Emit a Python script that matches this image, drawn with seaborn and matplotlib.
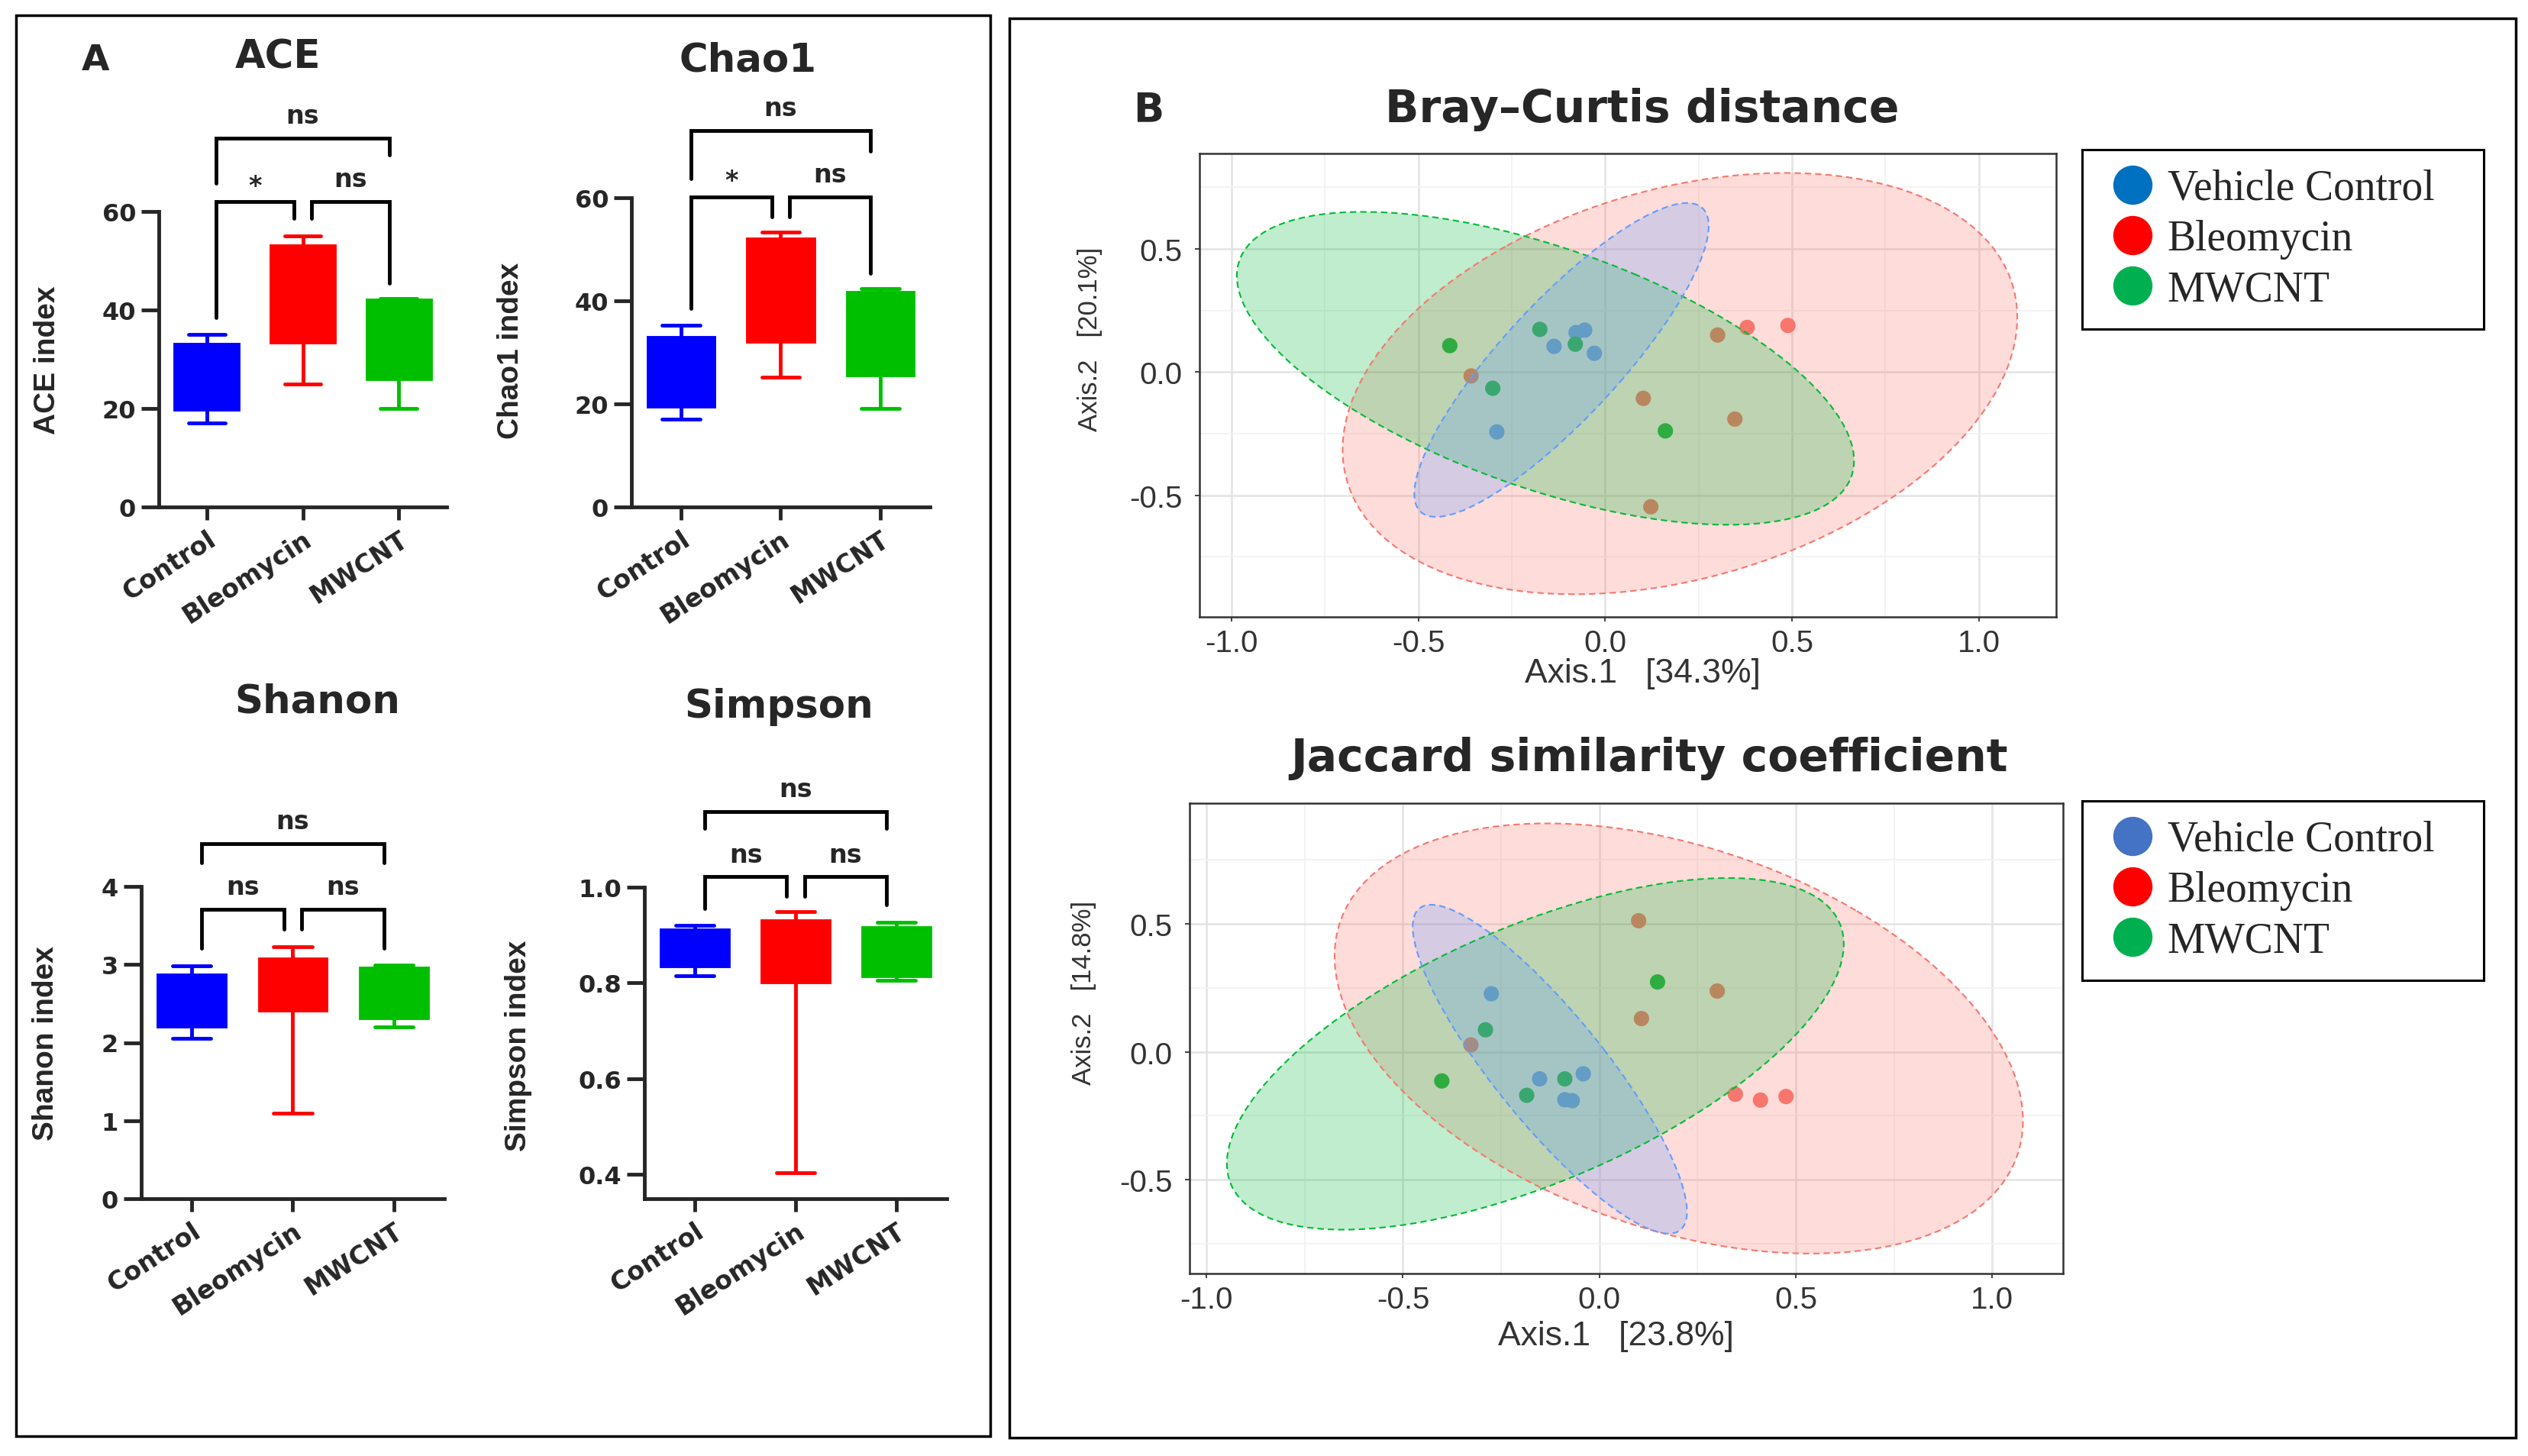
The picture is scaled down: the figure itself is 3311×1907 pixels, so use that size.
import matplotlib
matplotlib.use('Agg')
import matplotlib.pyplot as plt
from matplotlib.patches import Ellipse, Rectangle
from matplotlib.lines import Line2D
from matplotlib.ticker import FormatStrFormatter
import numpy as np
import pandas as pd
import seaborn as sns

# ---- panel A data: five-number summaries (min, q1, median, q3, max) ----
groups = ['Control', 'Bleomycin', 'MWCNT']
box_colors = ['#0000FF', '#FF0000', '#00BF00']

ace_control = [17.0, 19.9, 26.0, 33.0, 35.0]
ace_bleomycin = [25.0, 33.5, 45.0, 53.1, 55.0]
ace_mwcnt = [20.0, 26.1, 35.0, 42.0, 42.4]
chao1_control = [17.0, 19.6, 26.0, 32.9, 35.2]
chao1_bleomycin = [25.2, 32.1, 44.0, 52.0, 53.4]
chao1_mwcnt = [19.1, 25.6, 34.0, 41.6, 42.4]
shanon_control = [2.05, 2.21, 2.55, 2.87, 2.98]
shanon_bleomycin = [1.10, 2.42, 2.80, 3.07, 3.23]
shanon_mwcnt = [2.20, 2.32, 2.65, 2.95, 2.99]
simpson_control = [0.815, 0.835, 0.875, 0.911, 0.921]
simpson_bleomycin = [0.403, 0.802, 0.870, 0.930, 0.949]
simpson_mwcnt = [0.805, 0.815, 0.870, 0.915, 0.927]

# significance: ctrl-bleo, bleo-mwcnt, ctrl-mwcnt
ace_sig = ['*', 'ns', 'ns']
chao1_sig = ['*', 'ns', 'ns']
shanon_sig = ['ns', 'ns', 'ns']
simpson_sig = ['ns', 'ns', 'ns']
ace_bars = [62.0, 62.0, 74.9]
ace_legs = [(38.5, 58.6), (58.6, 45.4), (65.7, 71.4)]
chao1_bars = [60.2, 60.2, 73.1]
chao1_legs = [(38.5, 56.3), (56.3, 45.3), (63.7, 69.1)]
shanon_bars = [3.71, 3.71, 4.55]
shanon_legs = [(3.21, 3.45), (3.45, 3.21), (4.30, 4.30)]
simpson_bars = [1.022, 1.022, 1.158]
simpson_legs = [(0.955, 0.981), (0.981, 0.963), (1.123, 1.123)]
bracket_x = [(0.1, 0.91), (1.09, 1.9), (0.1, 1.9)]

# ---- panel B data: PCoA coordinates ----
pcoa_groups = ['Vehicle Control', 'Bleomycin', 'MWCNT']
pcoa_colors = ['#619CFF', '#F8766D', '#00BA38']
legend_colors_bc = ['#0070C0', '#FF0000', '#00B050']
legend_colors_jac = ['#4472C4', '#FF0000', '#00B050']

bc_control_x = [-0.078, -0.055, -0.137, -0.029, -0.290]
bc_control_y = [0.160, 0.170, 0.104, 0.076, -0.243]
bc_bleo_x = [-0.359, 0.301, 0.380, 0.489, 0.102, 0.347, 0.122]
bc_bleo_y = [-0.016, 0.150, 0.181, 0.189, -0.107, -0.191, -0.547]
bc_mwcnt_x = [-0.416, -0.175, -0.080, -0.301, 0.161]
bc_mwcnt_y = [0.107, 0.173, 0.113, -0.066, -0.239]

jac_control_x = [-0.275, -0.152, -0.041, -0.088, -0.069]
jac_control_y = [0.227, -0.106, -0.086, -0.1875, -0.191]
jac_bleo_x = [0.100, 0.300, 0.107, -0.327, 0.346, 0.410, 0.475]
jac_bleo_y = [0.5125, 0.2375, 0.130, 0.027, -0.166, -0.189, -0.175]
jac_mwcnt_x = [-0.290, -0.401, -0.185, -0.088, 0.148]
jac_mwcnt_y = [0.086, -0.114, -0.170, -0.106, 0.273]

# ellipses: centre x, centre y, half x-extent, half y-extent, x offset of top point
bc_ellipses = [(-0.117, 0.049, 0.394, 0.637, 0.336),
               (0.200, -0.047, 0.903, 0.855, 0.283),
               (-0.160, 0.015, 0.826, 0.635, -0.488)]
jac_ellipses = [(-0.126, -0.068, 0.349, 0.643, -0.302),
                (0.202, 0.052, 0.876, 0.841, -0.335),
                (-0.163, -0.008, 0.785, 0.6875, 0.490)]

sns.set_style('ticks')
plt.rcParams['axes.unicode_minus'] = False
plt.rcParams['font.family'] = ['DejaVu Sans']
NARROW = ['Liberation Sans Narrow', 'Liberation Sans']
LW = 3.5

W, H = 3312, 1908
fig = plt.figure(figsize=(W / 100, H / 100), dpi=100)


def ax_at(l, t, r, b):
    return fig.add_axes([l / W, 1 - b / H, (r - l) / W, (b - t) / H])


def ftext(x, y, s, **kw):
    fig.text(x / W, 1 - y / H, s, **kw)


def box_panel(ax, summaries, ylim, yticks, ylabels, bars, legs, sig):
    df = pd.DataFrame({'group': np.repeat(groups, 5),
                       'value': np.concatenate(summaries)})
    for g, c in zip(groups, box_colors):
        sns.boxplot(data=df[df.group == g], x='group', y='value', order=groups,
                    color=c, linecolor=c, saturation=1, width=0.66,
                    whis=(0, 100), linewidth=LW, fliersize=0, capwidths=0.38, ax=ax)
    ax.set_xlim(-0.5, 2.5)
    ax.set_ylim(ylim)
    ax.set_yticks(yticks)
    ax.set_yticklabels(ylabels, fontweight='bold', fontsize=23)
    ax.set_xticks(range(3))
    ax.set_xticklabels(groups, rotation=33, ha='right', rotation_mode='anchor',
                       fontweight='bold', fontsize=24)
    ax.set_xlabel('')
    ax.set_ylabel('')
    sns.despine(ax=ax)
    for s in ['left', 'bottom']:
        ax.spines[s].set_linewidth(LW)
    ax.tick_params(axis='y', length=16.5, width=LW, pad=5)
    ax.tick_params(axis='x', length=12, width=LW, pad=6)
    for (x1, x2), y, (l1, l2), lab in zip(bracket_x, bars, legs, sig):
        ax.plot([x1, x1, x2, x2], [l1, y, y, l2], color='black', lw=LW,
                clip_on=False, solid_joinstyle='miter')
        off = 15 if lab == '*' else 21
        ax.annotate(lab, xy=((x1 + x2) / 2, y), xytext=(0, off), textcoords='offset points',
                    ha='center', va='center', fontsize=24, fontweight='bold',
                    annotation_clip=False)


ax1 = ax_at(208, 278, 585, 665)
box_panel(ax1, [ace_control, ace_bleomycin, ace_mwcnt], (0, 60), [0, 20, 40, 60],
          ['0', '20', '40', '60'], ace_bars, ace_legs, ace_sig)
ax2 = ax_at(827, 260, 1218, 665)
box_panel(ax2, [chao1_control, chao1_bleomycin, chao1_mwcnt], (0, 60), [0, 20, 40, 60],
          ['0', '20', '40', '60'], chao1_bars, chao1_legs, chao1_sig)
ax3 = ax_at(185, 1162, 582, 1571)
box_panel(ax3, [shanon_control, shanon_bleomycin, shanon_mwcnt], (0, 4), [0, 1, 2, 3, 4],
          ['0', '1', '2', '3', '4'], shanon_bars, shanon_legs, shanon_sig)
ax4 = ax_at(844, 1163, 1240, 1571)
box_panel(ax4, [simpson_control, simpson_bleomycin, simpson_mwcnt], (0.349, 1.0),
          [0.4, 0.6, 0.8, 1.0], ['0.4', '0.6', '0.8', '1.0'],
          simpson_bars, simpson_legs, simpson_sig)

ftext(125, 80, 'A', fontsize=34, fontweight='bold', ha='center', va='center')
ftext(364, 76, 'ACE', fontsize=37, fontweight='bold', ha='center', va='center')
ftext(980, 80, 'Chao1', fontsize=37, fontweight='bold', ha='center', va='center')
ftext(416, 920, 'Shanon', fontsize=37, fontweight='bold', ha='center', va='center')
ftext(1020, 926, 'Simpson', fontsize=37, fontweight='bold', ha='center', va='center')
for x, y, s in [(62, 472, 'ACE index'), (669, 459, 'Chao1 index'),
                (60, 1367, 'Shanon index'), (679, 1370, 'Simpson index')]:
    ftext(x, y, s, fontsize=28, fontweight='bold', rotation=90, ha='center', va='center',
          family=NARROW)


def pcoa_panel(ax, xs, ys, ellipses, xlim, ylim, xlabel, ylabel, xlab_pos, ylab_pos):
    df = pd.DataFrame({'x': np.concatenate(xs), 'y': np.concatenate(ys),
                       'group': np.repeat(pcoa_groups, [len(v) for v in xs])})
    sns.scatterplot(data=df, x='x', y='y', hue='group', hue_order=pcoa_groups,
                    palette=pcoa_colors, s=210, linewidth=0, legend=False, ax=ax, zorder=2)
    for i in [1, 2, 0]:
        cx, cy, hw, hh, tdx = ellipses[i]
        S = np.array([[hw ** 2, tdx * hh], [tdx * hh, hh ** 2]])
        vals, vecs = np.linalg.eigh(S)
        ang = np.degrees(np.arctan2(vecs[1, 1], vecs[0, 1]))
        c = pcoa_colors[i]
        w, h = 2 * np.sqrt(vals[1]), 2 * np.sqrt(vals[0])
        ax.add_patch(Ellipse((cx, cy), w, h, angle=ang,
                             facecolor=matplotlib.colors.to_rgba(c, 0.25), edgecolor='none',
                             zorder=3))
        ax.add_patch(Ellipse((cx, cy), w, h, angle=ang, fill=False, edgecolor=c, lw=1.5,
                             linestyle=(0, (4, 2.5)), zorder=4))
    ax.set_xlim(xlim)
    ax.set_ylim(ylim)
    ax.set_xticks([-1.0, -0.5, 0.0, 0.5, 1.0])
    ax.set_xticks([-0.75, -0.25, 0.25, 0.75], minor=True)
    ax.set_yticks([-0.5, 0.0, 0.5])
    ax.set_yticks([-0.75, -0.25, 0.25, 0.75], minor=True)
    ax.xaxis.set_major_formatter(FormatStrFormatter('%.1f'))
    ax.yaxis.set_major_formatter(FormatStrFormatter('%.1f'))
    ax.grid(True, which='major', color='#E3E3E3', lw=1.8)
    ax.grid(True, which='minor', color='#F2F2F2', lw=1.3)
    ax.set_axisbelow(True)
    for s in ax.spines.values():
        s.set_visible(True)
        s.set_color('#333333')
        s.set_linewidth(1.8)
    ax.tick_params(which='major', length=4, width=1.3, color='#333333', labelcolor='#333333',
                   labelsize=29)
    ax.tick_params(axis='x', pad=7)
    ax.tick_params(axis='y', pad=12)
    ax.tick_params(which='minor', length=0)
    for t in ax.get_xticklabels() + ax.get_yticklabels():
        t.set_family('Liberation Sans')
    ax.set_xlabel(xlabel, fontsize=32, color='#333333', family='Liberation Sans')
    ax.set_ylabel(ylabel, fontsize=25, color='#333333', family='Liberation Sans')
    ax.xaxis.set_label_coords(*xlab_pos)
    ax.yaxis.set_label_coords(*ylab_pos)
    ax.xaxis.label.set_va('center')
    ax.yaxis.label.set_va('center')


ax5 = ax_at(1571, 202, 2693, 809)
pcoa_panel(ax5, [bc_control_x, bc_bleo_x, bc_mwcnt_x], [bc_control_y, bc_bleo_y, bc_mwcnt_y],
           bc_ellipses, (-1.086, 1.207), (-0.994, 0.887),
           'Axis.1   [34.3%]', 'Axis.2   [20.1%]', (0.517, -0.121), (-0.1275, 0.60))
ax6 = ax_at(1558, 1053, 2702, 1669)
pcoa_panel(ax6, [jac_control_x, jac_bleo_x, jac_mwcnt_x], [jac_control_y, jac_bleo_y, jac_mwcnt_y],
           jac_ellipses, (-1.043, 1.18), (-0.867, 0.972),
           'Axis.1   [23.8%]', 'Axis.2   [14.8%]', (0.488, -0.1316), (-0.121, 0.599))

ftext(1504, 144, 'B', fontsize=38, fontweight='bold', ha='center', va='center')
ftext(2151, 144, 'Bray\u2013Curtis distance', fontsize=42, fontweight='bold',
      ha='center', va='center')
ftext(2160, 994, 'Jaccard similarity coefficient', fontsize=42, fontweight='bold',
      ha='center', va='center')

for top, cols in [(197, legend_colors_bc), (1050, legend_colors_jac)]:
    handles = [Line2D([], [], marker='o', linestyle='', color=c, markersize=36) for c in cols]
    leg = fig.legend(handles, pcoa_groups, loc='upper left',
                     bbox_to_anchor=(2727 / W, 1 - (top + 231) / H, 526 / W, 231 / H),
                     mode='expand', prop={'family': 'Liberation Serif', 'size': 40},
                     frameon=True, fancybox=False, framealpha=1, edgecolor='black',
                     borderpad=0.45, handlelength=1.46, handletextpad=0.1,
                     labelspacing=0.26, borderaxespad=0)
    leg.get_frame().set_linewidth(2.2)

# panel frames
fig.add_artist(Rectangle((21 / W, 1 - 1882 / H), (1297 - 21) / W, (1882 - 21) / H,
                         transform=fig.transFigure, fill=False, lw=2.5, ec='black'))
fig.add_artist(Rectangle((1322 / W, 1 - 1884 / H), (3295 - 1322) / W, (1884 - 25) / H,
                         transform=fig.transFigure, fill=False, lw=2.5, ec='black'))

fig.savefig('out.png', dpi=100)
